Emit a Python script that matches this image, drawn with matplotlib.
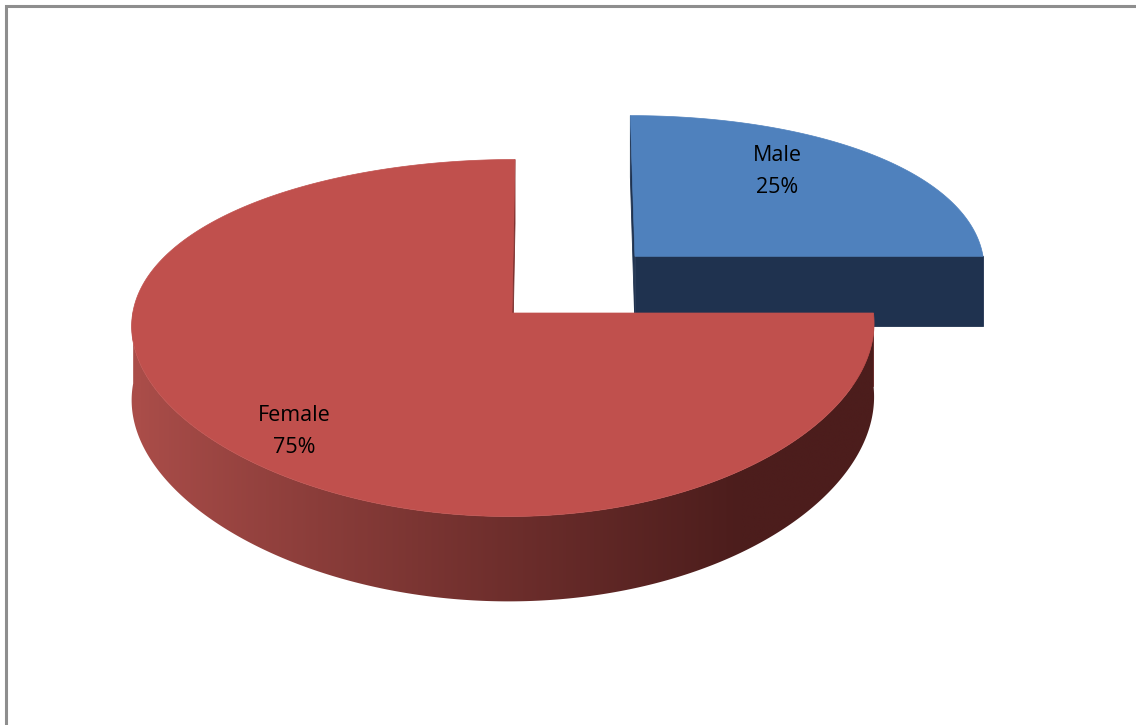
import numpy as np
import matplotlib
matplotlib.use("Agg")
import matplotlib.pyplot as plt
from matplotlib.patches import Polygon

# ---- data ----
labels = ["Male", "Female"]
values = [25, 75]
explode = [0.48, 0.0]

# ---- style ----
top_colors = ["#4F81BD", "#C0504D"]
radial_colors = ["#1F324F", "#7A2E2C"]
side_light = [np.array([0.30, 0.48, 0.72]), np.array([170, 77, 73]) / 255]
side_dark = [np.array([0.12, 0.19, 0.31]), np.array([76, 29, 28]) / 255]
label_pos = [(777, 161, 193), (294, 421, 453)]

# projection constants (pixel space)
CX, CY = 512, 313
RX, RY = 369, 175
H = 73
PX = 560
A, B, C = 0.14, 0.067, 0.024


def proj(X, Y, z):
    X = np.asarray(X, float)
    Y = np.asarray(Y, float)
    u = CX + RX * X
    sx = 1.0 / (1 + B * Y + C * X)
    x = PX + (u - PX) * sx
    t = 1.0 / (1 + A * Y)
    y = CY - RY * Y * t + H * z * t
    return x, y


fig = plt.figure(figsize=(11.36, 7.25), dpi=100)
ax = fig.add_axes([0, 0, 1, 1])
ax.set_xlim(0, 1136)
ax.set_ylim(725, 0)
ax.axis("off")

# border
ax.plot([5.5, 5.5, 1136], [725, 5.5, 5.5], color="#8E8E8E", lw=2.2,
        solid_joinstyle="miter", zorder=0)

total = float(sum(values))
start = 90.0
slices = []
for i, v in enumerate(values):
    sweep = 360.0 * v / total
    t1 = start
    t0 = start - sweep
    mid = np.deg2rad((t0 + t1) / 2)
    ex, ey = explode[i] * np.cos(mid), explode[i] * np.sin(mid)
    slices.append((t0, t1, ex, ey))
    start = t0

for i in [0, 1]:
    t0, t1, ex, ey = slices[i]
    th = np.deg2rad(np.linspace(t0, t1, 600))
    # radial faces
    for ang in (t0, t1):
        a = np.deg2rad(ang)
        Xs = [ex, ex + np.cos(a), ex + np.cos(a), ex]
        Ys = [ey, ey + np.sin(a), ey + np.sin(a), ey]
        x, y = proj(Xs, Ys, np.array([0, 0, 1, 1]))
        ax.add_patch(Polygon(np.column_stack([x, y]), closed=True,
                             facecolor=radial_colors[i], edgecolor=radial_colors[i],
                             lw=0.6, zorder=1 + i * 3))
    # outer side (front half) with horizontal gradient
    ths = th[np.sin(th) < 0.02]
    if len(ths) > 1:
        xt, yt = proj(ex + np.cos(ths), ey + np.sin(ths), 0)
        xb, yb = proj(ex + np.cos(ths), ey + np.sin(ths), 1)
        pts = np.column_stack([np.r_[xt, xb[::-1]], np.r_[yt, yb[::-1]]])
        poly = Polygon(pts, closed=True, facecolor="none", edgecolor="none",
                       zorder=2 + i * 3)
        ax.add_patch(poly)
        x0, x1 = pts[:, 0].min() - 2, pts[:, 0].max() + 2
        y0, y1 = pts[:, 1].min() - 2, pts[:, 1].max() + 2
        xs = np.linspace(x0, x1, 600)
        f = np.clip((xs - 140) / (740 - 140), 0, 1) ** 0.9
        grad = side_light[i][None, :] * (1 - f[:, None]) + side_dark[i][None, :] * f[:, None]
        img = np.repeat(grad[None, :, :], 2, axis=0)
        im = ax.imshow(img, extent=(x0, x1, y1, y0), origin="upper",
                       aspect="auto", interpolation="bilinear", zorder=2 + i * 3)
        im.set_clip_path(poly)
    # top face
    xa, ya = proj(ex + np.cos(th), ey + np.sin(th), 0)
    xv, yv = proj(ex, ey, 0)
    pts = np.column_stack([np.r_[xv, xa], np.r_[yv, ya]])
    ax.add_patch(Polygon(pts, closed=True, facecolor=top_colors[i],
                         edgecolor=top_colors[i], lw=0.5, zorder=3 + i * 3))

ax.set_xlim(0, 1136)
ax.set_ylim(725, 0)

# labels
for i, lab in enumerate(labels):
    x, y1, y2 = label_pos[i]
    ax.text(x, y1, lab, ha="center", va="baseline", fontsize=15.5,
            family="Open Sans", color="black", zorder=10)
    ax.text(x, y2, f"{values[i]}%", ha="center", va="baseline", fontsize=15.5,
            family="Open Sans", color="black", zorder=10)

fig.savefig("out.png", dpi=100)
